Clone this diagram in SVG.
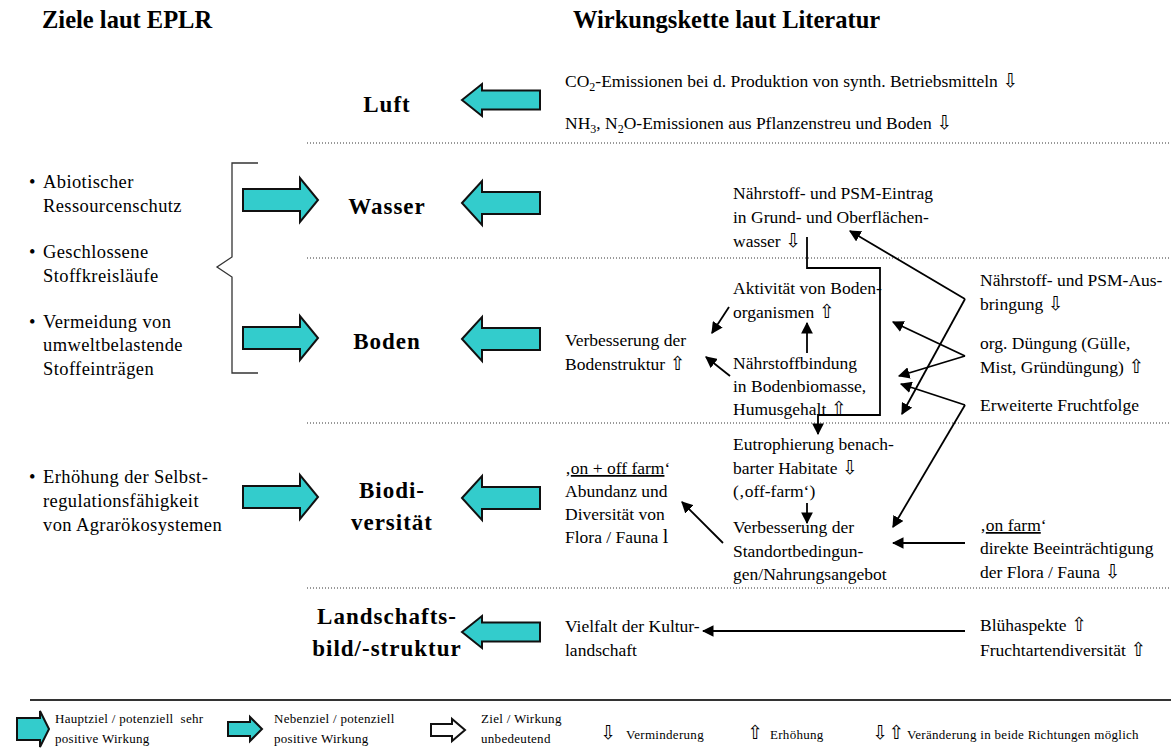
<svg xmlns="http://www.w3.org/2000/svg" xmlns:xlink="http://www.w3.org/1999/xlink" width="1171" height="749" viewBox="0 0 1171 749">
  <style>
    text { font-family: "Liberation Serif", "Times New Roman", serif; fill: #000; }
    .h { font-size: 24.5px; font-weight: bold; }
    .cat { font-size: 23px; font-weight: bold; letter-spacing: 1px; text-anchor: middle; }
    .goal { font-size: 18.5px; letter-spacing: 0.4px; }
    .t { font-size: 17.5px; }
    .lg { font-size: 13px; letter-spacing: 0.3px; }
    .sym { font-family: "DejaVu Sans", sans-serif; font-size: 19px; }
    .sub { font-size: 12px; }
    .teal { fill: #33CCCC; stroke: #111; stroke-width: 2; stroke-linejoin: miter; }
    .hollow { fill: #fff; stroke: #111; stroke-width: 2; }
    .sep { stroke: #333; stroke-width: 1; stroke-dasharray: 1 2; }
    .conn { fill: none; stroke: #000; stroke-width: 1.8; }
  </style>
  <defs>
    <marker id="ah" viewBox="0 0 10 10" refX="9" refY="5" markerWidth="6.5" markerHeight="6.5" markerUnits="strokeWidth" orient="auto">
      <path d="M0,0 L10,5 L0,10 Z" fill="#000"/>
    </marker>
    <!-- teal arrows pointing left, tip at origin -->
    <path id="arrL" d="M0,0 L20,-22 V-11 H78 V11 H20 V22 Z"/>
    <path id="arrLs" d="M0,0 L20,-16 V-9.5 H78 V9.5 H20 V16 Z"/>
    <!-- teal arrow pointing right, tail at origin -->
    <path id="arrR" d="M0,-11 H57 V-22 L75,0 L57,22 V11 H0 Z"/>
  </defs>

  <!-- column headings -->
  <g id="headings">
    <text class="h" x="42" y="28">Ziele laut EPLR</text>
    <text class="h" x="573" y="28">Wirkungskette laut Literatur</text>
  </g>

  <!-- row separators -->
  <g id="separators">
    <line class="sep" x1="307" y1="143" x2="1171" y2="143"/>
    <line class="sep" x1="307" y1="258" x2="1171" y2="258"/>
    <line class="sep" x1="307" y1="423" x2="1171" y2="423"/>
    <line class="sep" x1="307" y1="588" x2="1171" y2="588"/>
    <line x1="30" y1="700" x2="1171" y2="700" stroke="#333" stroke-width="2"/>
  </g>

  <!-- goals (left column) -->
  <g id="goals-abiotic">
    <text class="goal" x="29" y="188">•</text>
    <text class="goal" x="43" y="188">Abiotischer</text>
    <text class="goal" x="43" y="212">Ressourcenschutz</text>
    <text class="goal" x="29" y="258">•</text>
    <text class="goal" x="43" y="258">Geschlossene</text>
    <text class="goal" x="43" y="282">Stoffkreisläufe</text>
    <text class="goal" x="29" y="328">•</text>
    <text class="goal" x="43" y="328">Vermeidung von</text>
    <text class="goal" x="43" y="351">umweltbelastende</text>
    <text class="goal" x="43" y="375">Stoffeinträgen</text>
    <path d="M258,163 H232 V257 L217,267 L232,277 V373 H258" fill="none" stroke="#333" stroke-width="1.3"/>
  </g>
  <g id="goals-biotic">
    <text class="goal" x="29" y="483">•</text>
    <text class="goal" x="43" y="483">Erhöhung der Selbst-</text>
    <text class="goal" x="43" y="507">regulationsfähigkeit</text>
    <text class="goal" x="43" y="531">von Agrarökosystemen</text>
  </g>

  <!-- goal arrows -->
  <g id="goal-arrows">
    <use xlink:href="#arrR" class="teal" x="243" y="200"/>
    <use xlink:href="#arrR" class="teal" x="243" y="338"/>
    <use xlink:href="#arrR" class="teal" x="243" y="497"/>
  </g>

  <!-- protected goods -->
  <g id="luft">
    <text class="cat" x="387" y="112">Luft</text>
    <use xlink:href="#arrLs" class="teal" x="462" y="100"/>
  </g>
  <g id="wasser">
    <text class="cat" x="387" y="214">Wasser</text>
    <use xlink:href="#arrL" class="teal" x="462" y="203"/>
  </g>
  <g id="boden">
    <text class="cat" x="387" y="349">Boden</text>
    <use xlink:href="#arrL" class="teal" x="462" y="339"/>
  </g>
  <g id="biodiversitaet">
    <text class="cat" x="392" y="498">Biodi-</text>
    <text class="cat" x="392" y="530">versität</text>
    <use xlink:href="#arrL" class="teal" x="462" y="498"/>
  </g>
  <g id="landschaft">
    <text class="cat" x="387" y="624">Landschafts-</text>
    <text class="cat" x="387" y="656">bild/-struktur</text>
    <use xlink:href="#arrLs" class="teal" x="462" y="632"/>
  </g>

  <!-- effect chain texts -->
  <g id="emissionen">
    <text class="t" x="565" y="87">CO<tspan class="sub" dy="4">2</tspan><tspan dy="-4">-Emissionen bei d. Produktion von synth. Betriebsmitteln </tspan><tspan class="sym">⇩</tspan></text>
    <text class="t" x="565" y="129">NH<tspan class="sub" dy="4">3</tspan><tspan dy="-4">, N</tspan><tspan class="sub" dy="4">2</tspan><tspan dy="-4">O-Emissionen aus Pflanzenstreu und Boden </tspan><tspan class="sym">⇩</tspan></text>
  </g>
  <g id="eintrag">
    <text class="t" x="733" y="199">Nährstoff- und PSM-Eintrag</text>
    <text class="t" x="733" y="223">in Grund- und Oberflächen-</text>
    <text class="t" x="733" y="247">wasser <tspan class="sym">⇩</tspan></text>
  </g>
  <g id="aktivitaet">
    <text class="t" x="733" y="294">Aktivität von Boden-</text>
    <text class="t" x="733" y="318">organismen <tspan class="sym">⇧</tspan></text>
  </g>
  <g id="bodenstruktur">
    <text class="t" x="565" y="346">Verbesserung der</text>
    <text class="t" x="565" y="370">Bodenstruktur <tspan class="sym">⇧</tspan></text>
  </g>
  <g id="naehrstoffbindung">
    <text class="t" x="733" y="369">Nährstoffbindung</text>
    <text class="t" x="733" y="392">in Bodenbiomasse,</text>
    <text class="t" x="733" y="415">Humusgehalt <tspan class="sym">⇧</tspan></text>
  </g>
  <g id="ausbringung">
    <text class="t" x="980" y="286">Nährstoff- und PSM-Aus-</text>
    <text class="t" x="980" y="310">bringung <tspan class="sym">⇩</tspan></text>
  </g>
  <g id="duengung">
    <text class="t" x="980" y="349">org. Düngung (Gülle,</text>
    <text class="t" x="980" y="373">Mist, Gründüngung) <tspan class="sym">⇧</tspan></text>
  </g>
  <g id="fruchtfolge">
    <text class="t" x="980" y="411">Erweiterte Fruchtfolge</text>
  </g>
  <g id="eutrophierung">
    <text class="t" x="733" y="450">Eutrophierung benach-</text>
    <text class="t" x="733" y="474">barter Habitate <tspan class="sym">⇩</tspan></text>
    <text class="t" x="733" y="497">(‚off-farm‘)</text>
  </g>
  <g id="abundanz">
    <text class="t" x="565" y="474">‚<tspan text-decoration="underline">on + off farm</tspan>‘</text>
    <text class="t" x="565" y="497">Abundanz und</text>
    <text class="t" x="565" y="520">Diversität von</text>
    <text class="t" x="565" y="543">Flora / Fauna <tspan font-size="20">l</tspan></text>
  </g>
  <g id="standort">
    <text class="t" x="733" y="533">Verbesserung der</text>
    <text class="t" x="733" y="557">Standortbedingun-</text>
    <text class="t" x="733" y="580">gen/Nahrungsangebot</text>
  </g>
  <g id="onfarm">
    <text class="t" x="980" y="531">‚<tspan text-decoration="underline">on farm</tspan>‘</text>
    <text class="t" x="980" y="554">direkte Beeinträchtigung</text>
    <text class="t" x="980" y="578">der Flora / Fauna <tspan class="sym">⇩</tspan></text>
  </g>
  <g id="vielfalt">
    <text class="t" x="565" y="632">Vielfalt der Kultur-</text>
    <text class="t" x="565" y="656">landschaft</text>
  </g>
  <g id="bluehaspekte">
    <text class="t" x="980" y="631">Blühaspekte <tspan class="sym">⇧</tspan></text>
    <text class="t" x="980" y="656">Fruchtartendiversität <tspan class="sym">⇧</tspan></text>
  </g>

  <!-- connectors -->
  <g id="connectors" class="conn">
    <path d="M807,237 V268 H880 V415 H818 V434" marker-end="url(#ah)"/>
    <path d="M965,299 L850,231" marker-end="url(#ah)"/>
    <path d="M965,299 L902,414" marker-end="url(#ah)"/>
    <path d="M965,356 L893,322" marker-end="url(#ah)"/>
    <path d="M965,356 L899,376" marker-end="url(#ah)"/>
    <path d="M965,405 L901,384" marker-end="url(#ah)"/>
    <path d="M965,405 L893,527" marker-end="url(#ah)"/>
    <path d="M729,307 L712,333" marker-end="url(#ah)"/>
    <path d="M807,353 V323" marker-end="url(#ah)"/>
    <path d="M730,376 L706,357" marker-end="url(#ah)"/>
    <path d="M807,503 V523" marker-end="url(#ah)"/>
    <path d="M723,543 L682,502" marker-end="url(#ah)"/>
    <path d="M965,543 H893" marker-end="url(#ah)"/>
    <path d="M965,631 H703" marker-end="url(#ah)"/>
  </g>

  <!-- legend -->
  <g id="legend">
    <path class="teal" d="M17,718 H40 V711 L49,729 L40,747 V740 H17 Z"/>
    <text class="lg" x="55" y="723" xml:space="preserve">Hauptziel / potenziell  sehr</text>
    <text class="lg" x="55" y="743">positive Wirkung</text>
    <path class="teal" d="M228,722 H250 V717 L262,729 L250,741 V736 H228 Z"/>
    <text class="lg" x="274" y="723">Nebenziel / potenziell</text>
    <text class="lg" x="274" y="743">positive Wirkung</text>
    <path class="hollow" d="M431,724 H452 V719 L465,730 L452,741 V736 H431 Z"/>
    <text class="lg" x="481" y="723">Ziel / Wirkung</text>
    <text class="lg" x="481" y="743">unbedeutend</text>
    <text class="lg" x="600" y="739"><tspan class="sym" font-size="16">⇩</tspan></text>
    <text class="lg" x="626" y="739">Verminderung</text>
    <text class="lg" x="747" y="739"><tspan class="sym" font-size="16">⇧</tspan></text>
    <text class="lg" x="770" y="739">Erhöhung</text>
    <text class="lg" x="872" y="739"><tspan class="sym" font-size="16">⇩⇧</tspan></text>
    <text class="lg" x="907" y="739">Veränderung in beide Richtungen möglich</text>
  </g>
</svg>
